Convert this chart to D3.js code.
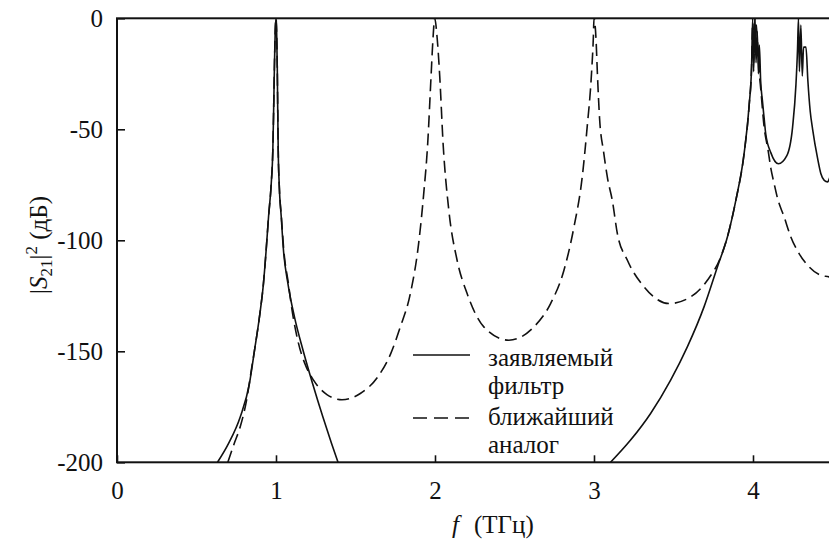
<!DOCTYPE html>
<meta charset="utf-8">
<title>|S21|^2 - фильтр</title>
<body style="margin:0; background:#fff">
<script src="https://d3js.org/d3.v7.min.js"></script>
<script>

    // x ticks and y ticks
    var xTicks = [0, 1, 2, 3, 4];
    var yTicks = [0, -50, -100, -150, -200];

    // заявляемый фильтр (solid) - null splits the segments
    var solidF  = [0.632, 0.701, 0.775, 0.833, 0.865, 0.896, 0.921, 0.938, 0.953, 0.970, 0.980, 0.985, 0.990, 0.995, 1.000,
                   1.004, 1.008, 1.011, 1.014, 1.020, 1.033, 1.047, 1.075, 1.116, 1.170, 1.230, 1.295, 1.350, 1.390,
                   2.0,
                   3.104, 3.230, 3.356, 3.482, 3.587, 3.692, 3.776, 3.839, 3.892, 3.944, 3.976, 3.991, 3.998, 4.004,
                   4.012, 4.019, 4.027, 4.034, 4.040, 4.048, 4.059, 4.070, 4.080, 4.112, 4.160, 4.212, 4.249, 4.270,
                   4.280, 4.286, 4.292, 4.301, 4.310, 4.318, 4.333, 4.345, 4.360, 4.375, 4.406, 4.427, 4.448, 4.469,
                   4.484, 4.5];
    var solidDb = [-200, -191.6, -179.6, -164.5, -149.5, -134.5, -119.5, -104.5, -89.5, -74.5, -59.5, -42, -22, -6, 0,
                   -6, -22, -42, -59.5, -74.5, -89.5, -104.5, -119.5, -134.5, -149.5, -164.5, -179.6, -191.6, -200,
                   null,
                   -200, -190, -178, -163, -148, -130, -112, -98.5, -82, -61, -39, -22, 0, -24,
                   0, -20, -6, -25, -12, -28, -37, -45, -52, -60.5, -65.5, -62, -49, -30,
                   -14, 0, -24, -3, -26, -13, -13, -28, -42, -50, -63, -70, -73, -73.7,
                   -71.5, -69];

    // ближайший аналог (dashed)
    var dashF  = [0.697, 0.740, 0.775, 0.815, 0.848, 0.865, 0.896, 0.921, 0.938, 0.953, 0.970, 0.980, 0.985, 0.990, 0.995,
                  1.000, 1.004, 1.008, 1.011, 1.014, 1.020, 1.034, 1.049, 1.078, 1.100, 1.140, 1.190, 1.236, 1.320,
                  1.415, 1.530, 1.635, 1.719, 1.782, 1.845, 1.897, 1.929, 1.954, 1.975, 1.988, 1.998, 2.013, 2.030,
                  2.051, 2.087, 2.139, 2.202, 2.307, 2.464, 2.622, 2.727, 2.811, 2.874, 2.926, 2.957, 2.983, 2.996,
                  3.000, 3.012, 3.022, 3.035, 3.060, 3.085, 3.115, 3.147, 3.210, 3.315, 3.472, 3.608, 3.713, 3.797,
                  3.839, 3.892, 3.944, 3.976, 3.991, 3.998, 4.005, 4.012, 4.020, 4.028, 4.040, 4.049, 4.070, 4.095,
                  4.112, 4.133, 4.154, 4.196, 4.238, 4.290, 4.353, 4.427, 4.479, 4.5];
    var dashDb = [-200, -191, -184, -172, -157, -149.5, -134.5, -119.5, -104.5, -89.5, -74.5, -59.5, -42, -22, -6,
                  0, -6, -22, -42, -59.5, -74.5, -89.5, -104.5, -119.5, -131, -146, -157, -163, -169.5,
                  -171.8, -169, -162, -151.5, -139, -124, -101.5, -79, -56.5, -26.4, -8.4, 0, -8.4, -26.4,
                  -56.5, -86.5, -109, -124, -139, -145, -139, -128.5, -113.5, -94, -71.5, -49, -26.4, -8.4,
                  0, -8.4, -26, -45, -60, -72, -82, -97, -109, -121, -128.5, -125.5, -118, -107.5,
                  -98.5, -82, -61, -39, -22, -2, -20, 0, -3, -10, -25, -32, -49, -59.5,
                  -67.5, -74.5, -81, -89.5, -98.5, -106, -112, -115.8, -116.5, -117];

    var legendLabels = [["заявляемый", "фильтр"], ["ближайший", "аналог"]];

    var width = 829,
        height = 544;
    var serif = "'Liberation Serif'";
    var fs = "25px";

    var x = d3.scaleLinear()
        .domain([0, 4.5])
        .range([117, 832.5]);

    var y = d3.scaleLinear()
        .domain([-200, 0])
        .range([462.3, 18.3]);

    var svg = d3.select("body").append("svg")
        .attr("width", width)
        .attr("height", height)
        .style("display", "block");

    svg.append("clipPath").attr("id", "plot")
      .append("rect")
        .attr("x", x(0)).attr("y", y(0))
        .attr("width", x(4.5) - x(0)).attr("height", y(-200) - y(0));

    var line = d3.line()
        .defined(d => d[1] !== null)
        .x(d => x(d[0]))
        .y(d => y(d[1]))
        .curve(d3.curveMonotoneX);

    var solid = solidF.map((f, i) => [f, solidDb[i]]);
    var dashed = dashF.map((f, i) => [f, dashDb[i]]);

    var g = svg.append("g").attr("clip-path", "url(#plot)");

    g.append("path")
        .datum(dashed)
        .attr("d", line)
        .attr("fill", "none")
        .attr("stroke", "#111")
        .attr("stroke-width", 1.6)
        .attr("stroke-dasharray", "12,6");

    g.append("path")
        .datum(solid)
        .attr("d", line)
        .attr("fill", "none")
        .attr("stroke", "#111")
        .attr("stroke-width", 1.6);

    // axes, ticks pointing inside
    var xAxis = svg.append("g")
        .attr("transform", `translate(0,${y(-200)})`)
        .call(d3.axisBottom(x).tickValues(xTicks).tickSize(-7).tickPadding(19).tickFormat(d3.format("d")));

    var yAxis = svg.append("g")
        .attr("transform", `translate(${x(0)},0)`)
        .call(d3.axisLeft(y).tickValues(yTicks).tickSize(-8).tickPadding(14).tickFormat(d => d === 0 ? "0" : "-" + Math.abs(d)));

    [xAxis, yAxis].forEach(a => {
        a.select(".domain").remove();
        a.selectAll(".tick line").attr("stroke", "#111").attr("stroke-width", 1.6);
        a.selectAll(".tick text")
            .attr("fill", "#111")
            .style("font-family", serif)
            .style("font-size", fs);
    });

    // frame
    svg.append("rect")
        .attr("x", x(0)).attr("y", y(0))
        .attr("width", x(4.5) - x(0)).attr("height", y(-200) - y(0))
        .attr("fill", "none")
        .attr("stroke", "#111")
        .attr("stroke-width", 2);

    // x title
    var xt = svg.append("text")
        .attr("x", 452).attr("y", 533)
        .attr("fill", "#111")
        .style("font-family", serif)
        .style("font-size", fs);
    xt.append("tspan").style("font-style", "italic").text("f");
    xt.append("tspan").attr("x", 474).text("(ТГц)");

    // y title
    var yt = svg.append("text")
        .attr("transform", "translate(47,245) rotate(-90)")
        .attr("text-anchor", "middle")
        .attr("fill", "#111")
        .style("font-family", serif)
        .style("font-size", fs);
    yt.append("tspan").text("|");
    yt.append("tspan").style("font-style", "italic").text("S");
    yt.append("tspan").attr("dy", 5).style("font-size", "17px").text("21");
    yt.append("tspan").attr("dy", -5).text("|");
    yt.append("tspan").attr("dy", -10).style("font-size", "17px").text("2");
    yt.append("tspan").attr("dy", 10).text(" (дБ)");

    // legend
    var legend = svg.append("g");
    var legendY = [355, 418];
    var legendBase = [[366, 394], [425, 453]];
    legendLabels.forEach((lab, i) => {
        legend.append("line")
            .attr("x1", 413).attr("x2", 470)
            .attr("y1", legendY[i]).attr("y2", legendY[i])
            .attr("stroke", "#111")
            .attr("stroke-width", 1.6)
            .attr("stroke-dasharray", i === 1 ? "14,7" : null);
        lab.forEach((t, j) => {
            legend.append("text")
                .attr("x", 488)
                .attr("y", legendBase[i][j])
                .attr("fill", "#111")
                .style("font-family", serif)
                .style("font-size", fs)
                .text(t);
        });
    });

</script>
</body>
